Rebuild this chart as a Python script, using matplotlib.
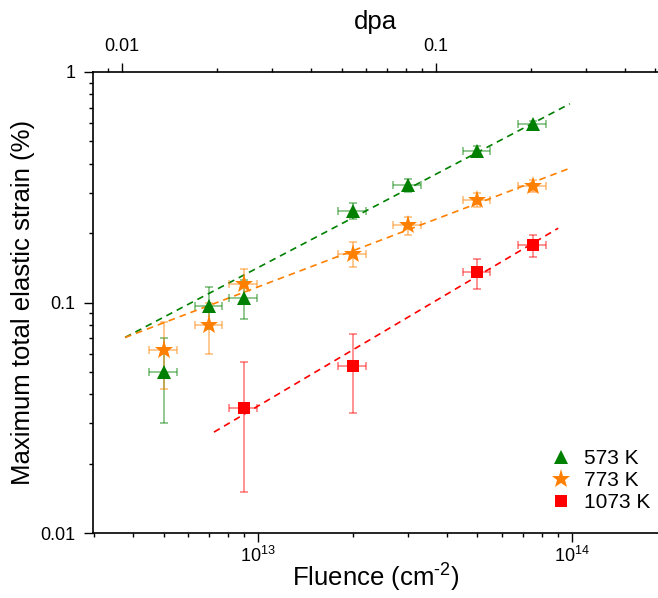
# maximum total elastic strain vs fluence, with dpa on the top axis

import matplotlib
matplotlib.use('Agg')
import matplotlib.pyplot as plt
from matplotlib.ticker import LogLocator, NullFormatter, FixedLocator

plt.rcParams['font.family'] = ['Liberation Sans', 'DejaVu Sans']
plt.rcParams['mathtext.fontset'] = 'custom'
plt.rcParams['mathtext.rm'] = 'Liberation Sans'
plt.rcParams['mathtext.it'] = 'Liberation Sans:italic'

# data
fluence_573 = [5e12, 7e12, 9e12, 2e13, 3e13, 5e13, 7.5e13]
strain_573 = [0.050, 0.097, 0.105, 0.250, 0.322, 0.456, 0.592]
xerr_573 = [0.5e12, 0.7e12, 0.9e12, 2e12, 3e12, 5e12, 7.5e12]
yerr_573 = [0.02, 0.02, 0.02, 0.02, 0.02, 0.02, 0.02]

fluence_773 = [5e12, 7e12, 9e12, 2e13, 3e13, 5e13, 7.5e13]
strain_773 = [0.062, 0.080, 0.120, 0.163, 0.216, 0.279, 0.321]
xerr_773 = [0.5e12, 0.7e12, 0.9e12, 2e12, 3e12, 5e12, 7.5e12]
yerr_773 = [0.02, 0.02, 0.02, 0.02, 0.02, 0.02, 0.02]

fluence_1073 = [9e12, 2e13, 5e13, 7.5e13]
strain_1073 = [0.035, 0.053, 0.135, 0.177]
xerr_1073 = [0.9e12, 2e12, 5e12, 7.5e12]
yerr_1073 = [0.02, 0.02, 0.02, 0.02]

# dashed fit lines (end points)
fit_x_573 = [3.77e12, 9.85e13]
fit_y_573 = [0.0705, 0.728]
fit_x_773 = [3.77e12, 9.85e13]
fit_y_773 = [0.0705, 0.3825]
fit_x_1073 = [7.24e12, 9.04e13]
fit_y_1073 = [0.0274, 0.210]

dpa_per_fluence = 2.71e-15

series = [
    (fluence_573, strain_573, xerr_573, yerr_573, fit_x_573, fit_y_573, '#008000', '^', 10, '573 K'),
    (fluence_773, strain_773, xerr_773, yerr_773, fit_x_773, fit_y_773, '#FF8000', '*', 14, '773 K'),
    (fluence_1073, strain_1073, xerr_1073, yerr_1073, fit_x_1073, fit_y_1073, '#FF0000', 's', 8, '1073 K'),
]

fig = plt.figure(figsize=(6.58, 5.98), dpi=100)
ax = fig.add_axes([93 / 658, 1 - 533 / 598, 1 - 93 / 658, (533 - 72) / 598])

handles = []
for fx, fy, xe, ye, lx, ly, col, mk, ms, lab in series:
    ax.plot(lx, ly, linestyle=(0, (4, 3)), color=col, lw=1.2, zorder=2)
    ax.errorbar(fx, fy, xerr=xe, yerr=ye, fmt='none', ecolor=col, alpha=0.5,
                elinewidth=1.2, capsize=3, capthick=1.2, zorder=3)
    h, = ax.plot(fx, fy, linestyle='none', marker=mk, markersize=ms, color=col,
                 markeredgewidth=0, zorder=4, label=lab)
    handles.append(h)

ax.set_xscale('log')
ax.set_yscale('log')
ax.set_xlim(2.98e12, 1.88e14)
ax.set_ylim(0.01, 1)

ax.set_yticks([0.01, 0.1, 1])
ax.set_yticklabels(['0.01', '0.1', '1'], fontsize=13)
ax.yaxis.set_minor_locator(LogLocator(base=10, subs=range(2, 10)))
ax.yaxis.set_minor_formatter(NullFormatter())
ax.set_xticks([1e13, 1e14])
ax.set_xticklabels(['10$^{13}$', '10$^{14}$'], fontsize=13)
ax.xaxis.set_minor_locator(LogLocator(base=10, subs=range(2, 10)))
ax.xaxis.set_minor_formatter(NullFormatter())

ax.tick_params(which='major', direction='out', length=6.5, width=1)
ax.tick_params(which='minor', direction='out', length=3, width=1)
ax.tick_params(axis='y', which='major', pad=6)
ax.tick_params(axis='x', which='major', pad=3)
ax.spines['right'].set_visible(False)
ax.spines['top'].set_visible(False)
for s in ['left', 'bottom']:
    ax.spines[s].set_linewidth(1.2)

ax.set_xlabel(r'Fluence (cm$^{\text{-2}}$)', fontsize=18.5, labelpad=-3)
ax.set_ylabel('Maximum total elastic strain (%)', fontsize=18.5, labelpad=4)

top = ax.secondary_xaxis('top', functions=(lambda f: f * dpa_per_fluence,
                                           lambda d: d / dpa_per_fluence))
top.set_xscale('log')
top.xaxis.set_major_locator(FixedLocator([0.01, 0.1]))
top.set_xticklabels(['0.01', '0.1'], fontsize=13)
top.xaxis.set_minor_locator(LogLocator(base=10, subs=range(2, 10)))
top.xaxis.set_minor_formatter(NullFormatter())
top.tick_params(which='major', direction='out', length=6.5, width=1, pad=6)
top.tick_params(which='minor', direction='out', length=3, width=1)
top.spines['top'].set_linewidth(1.2)
top.set_xlabel('dpa', fontsize=18.5, labelpad=6)

ax.legend(handles=handles, loc='lower right', frameon=False, fontsize=15,
          handletextpad=0.5, handlelength=1.2, labelspacing=0.15,
          bbox_to_anchor=(1.02, 0.004))

fig.savefig('out.png', dpi=100)
